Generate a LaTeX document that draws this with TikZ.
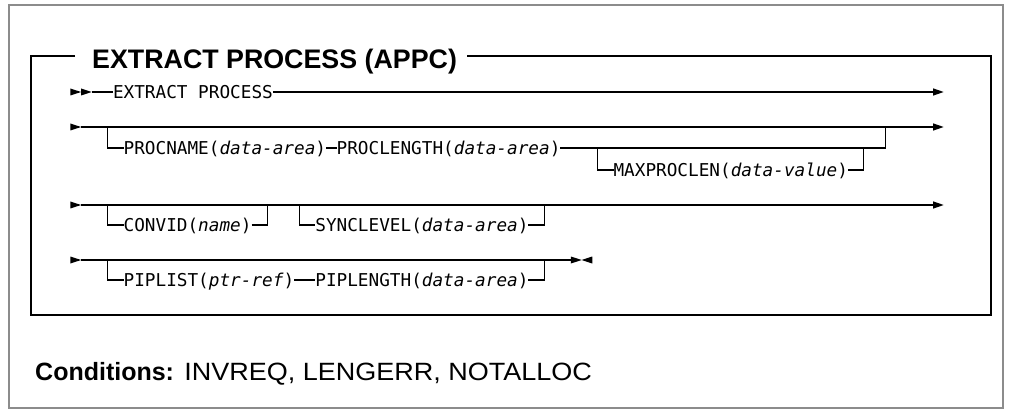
\documentclass[tikz,border=0pt]{standalone}
\usepackage{fontspec}
\setmainfont{Liberation Sans}
\newfontfamily\synfont{DejaVu Sans Mono}
\usetikzlibrary{arrows.meta}
\begin{document}
\begin{tikzpicture}[x=1pt,y=-1pt,
  syn/.style={font=\synfont\fontsize{17.7}{17.7}\selectfont, inner sep=0pt, outer sep=0pt,
    text height=16.9pt, text depth=4pt, anchor=west},
  ln/.style={line width=1.1pt, line cap=butt},
  arr/.style={ln, -{Triangle[length=10.6pt,width=7pt]}},
  frame/.style={draw=black!45, line width=1.3pt},
  box/.style={draw=black, line width=1.8pt}]
\useasboundingbox (0,0) rectangle (1013,409);
% outer frame
\draw[frame] (9,5) rectangle (1003,408);
% title
\node[font=\bfseries\fontsize{26.8}{26.8}\selectfont, inner sep=0pt, anchor=base west] (title) at (92,69) {EXTRACT PROCESS (APPC)};
\coordinate (bl) at (31,315);
\coordinate (br) at (991,315);
\draw[box] (75,56) -- (31,56) -- (bl) -- (br) -- (991,56) -- (467,56);
% ---------- row 1
\fill (70.4,88.5) -- (81.05,92) -- (70.4,95.5) -- cycle;
\fill (81.05,88.5) -- (91.7,92) -- (81.05,95.5) -- cycle;
\coordinate (s1) at (91.7,92);
\node[syn] (t1) at (113,92) {EXTRACT PROCESS};
\coordinate (e1) at (943.7,92);
\draw[ln] (s1) -- (t1.west);
\draw[arr] (t1.east) -- (e1);
% ---------- row 2
\fill (70.4,123.5) -- (81.05,127) -- (70.4,130.5) -- cycle;
\coordinate (s2) at (81.05,127);
\coordinate (e2) at (943.7,127);
\draw[arr] (s2) -- (e2);
\coordinate (b2) at (107.7,127);
\node[syn] (pn) at (123.65,148) {PROCNAME(\textit{data-area})};
\node[syn] (pl) at (336.65,148) {PROCLENGTH(\textit{data-area})};
\coordinate (j2) at (885.1,127);
\draw[ln] (b2) |- (pn.west);
\draw[ln] (pn.east) -- (pl.west);
\draw[ln] (pl.east) -| (j2);
\coordinate (m2) at (597.6,148);
\node[syn] (mx) at (613.55,170) {MAXPROCLEN(\textit{data-value})};
\coordinate (mj) at (863.8,148);
\draw[ln] (m2) |- (mx.west);
\draw[ln] (mx.east) -| (mj);
% ---------- row 3
\fill (70.4,201.5) -- (81.05,205) -- (70.4,208.5) -- cycle;
\coordinate (s3) at (81.05,205);
\coordinate (e3) at (943.7,205);
\draw[arr] (s3) -- (e3);
\coordinate (b3) at (107.7,205);
\node[syn] (cv) at (123.65,225) {CONVID(\textit{name})};
\coordinate (j3) at (267.4,205);
\draw[ln] (b3) |- (cv.west);
\draw[ln] (cv.east) -| (j3);
\coordinate (b3s) at (299.4,205);
\node[syn] (sy) at (315.35,225) {SYNCLEVEL(\textit{data-area})};
\coordinate (j3s) at (544.3,205);
\draw[ln] (b3s) |- (sy.west);
\draw[ln] (sy.east) -| (j3s);
% ---------- row 4
\fill (70.4,256.5) -- (81.05,260) -- (70.4,263.5) -- cycle;
\coordinate (s4) at (81.05,260);
\coordinate (e4) at (570.95,260);
\draw[ln] (s4) -- (e4);
\fill (570.95,256.5) -- (581.6,260) -- (570.95,263.5) -- cycle;
\fill (592.25,256.5) -- (581.6,260) -- (592.25,263.5) -- cycle;
\coordinate (b4) at (107.7,260);
\node[syn] (pp) at (123.65,280) {PIPLIST(\textit{ptr-ref})};
\node[syn] (pg) at (315.35,280) {PIPLENGTH(\textit{data-area})};
\coordinate (j4) at (544.3,260);
\draw[ln] (b4) |- (pp.west);
\draw[ln] (pp.east) -- (pg.west);
\draw[ln] (pg.east) -| (j4);
% ---------- conditions
\node[font=\fontsize{25}{25}\selectfont, inner sep=0pt, anchor=base west] (cond) at (35,380) {\textbf{Conditions:}\hspace{1pt} \scalebox{1.08}[1]{INVREQ, LENGERR, NOTALLOC}};
\end{tikzpicture}
\end{document}
